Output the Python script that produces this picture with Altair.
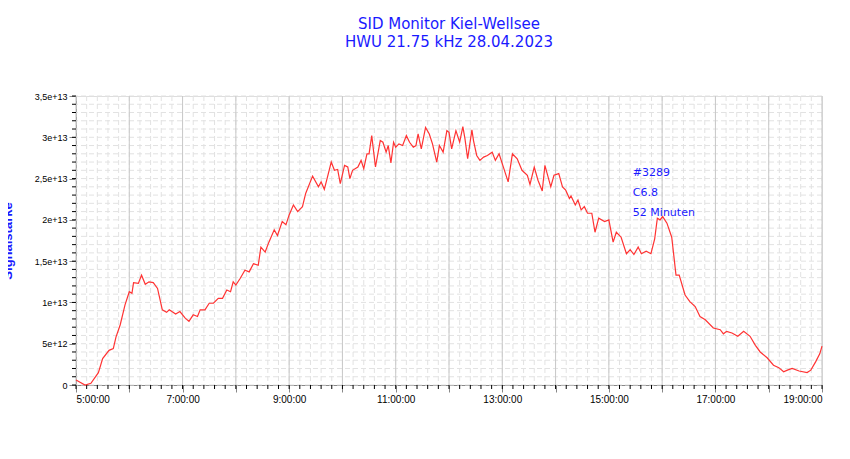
import numpy as np
import pandas as pd
import altair as alt

# time in hours (UTC), signal in units of 1e13
hours = [
    5.0, 5.17, 5.28, 5.42, 5.5, 5.62, 5.7, 5.75, 5.83, 5.92, 6.0, 6.05, 6.08, 6.17, 6.23,
    6.3, 6.37, 6.45, 6.53, 6.62, 6.7, 6.75, 6.87, 6.95, 7.05, 7.12, 7.2, 7.28, 7.33, 7.42,
    7.5, 7.58, 7.67, 7.75, 7.83, 7.9, 7.95, 8.0, 8.08, 8.17, 8.25, 8.33, 8.42, 8.47, 8.55,
    8.62, 8.72, 8.78, 8.87, 8.94, 9.0, 9.08, 9.16, 9.25, 9.31, 9.44, 9.55, 9.6, 9.66, 9.72,
    9.79, 9.85, 9.91, 9.96, 10.04, 10.1, 10.14, 10.19, 10.29, 10.35, 10.4, 10.46, 10.5,
    10.55, 10.62, 10.71, 10.76, 10.82, 10.86, 10.91, 10.96, 11.0, 11.06, 11.13, 11.2,
    11.26, 11.33, 11.38, 11.42, 11.48, 11.56, 11.63, 11.69, 11.77, 11.82, 11.89, 11.96,
    12.0, 12.05, 12.13, 12.2, 12.26, 12.3, 12.35, 12.43, 12.46, 12.52, 12.58, 12.65,
    12.72, 12.81, 12.87, 12.94, 13.01, 13.11, 13.19, 13.28, 13.37, 13.47, 13.52, 13.6,
    13.67, 13.75, 13.8, 13.91, 13.97, 14.06, 14.13, 14.19, 14.26, 14.29, 14.37, 14.42,
    14.48, 14.54, 14.6, 14.68, 14.74, 14.81, 14.92, 15.0, 15.08, 15.14, 15.23, 15.33,
    15.4, 15.47, 15.55, 15.61, 15.7, 15.79, 15.86, 15.91, 15.96, 16.01, 16.09, 16.18,
    16.26, 16.32, 16.43, 16.52, 16.62, 16.71, 16.81, 16.96, 17.09, 17.15, 17.21, 17.31,
    17.42, 17.53, 17.65, 17.75, 17.84, 17.97, 18.09, 18.19, 18.28, 18.35, 18.44, 18.57,
    18.72, 18.79, 18.88, 18.96, 19.0,
]
signal = [
    0.06, 0.0, 0.02, 0.15, 0.32, 0.42, 0.44, 0.58, 0.73, 0.97, 1.13, 1.11, 1.24, 1.23, 1.33,
    1.22, 1.25, 1.24, 1.17, 0.91, 0.88, 0.91, 0.86, 0.89, 0.81, 0.77, 0.85, 0.83, 0.91, 0.91,
    0.99, 0.99, 1.05, 1.05, 1.15, 1.13, 1.25, 1.21, 1.29, 1.39, 1.37, 1.47, 1.45, 1.67, 1.61,
    1.73, 1.88, 1.81, 1.98, 1.94, 2.06, 2.18, 2.10, 2.16, 2.32, 2.53, 2.40, 2.46, 2.37, 2.52,
    2.70, 2.60, 2.61, 2.44, 2.66, 2.64, 2.50, 2.60, 2.64, 2.72, 2.62, 2.80, 2.80,
    3.02, 2.64, 2.96, 2.94, 2.82, 2.90, 2.69, 2.94, 2.88, 2.92, 2.90, 3.02,
    2.94, 2.88, 2.90, 3.04, 2.86, 3.12, 3.04, 2.92, 2.70, 2.90, 2.82, 3.08,
    3.06, 2.86, 3.08, 2.94, 3.13, 2.98, 2.74, 3.09, 2.96, 2.78, 2.72, 2.76,
    2.78, 2.82, 2.72, 2.80, 2.66, 2.46, 2.80, 2.74, 2.60, 2.54, 2.43, 2.64,
    2.48, 2.35, 2.66, 2.40, 2.54, 2.56, 2.40, 2.36, 2.26, 2.29, 2.18, 2.24,
    2.12, 2.16, 2.08, 2.08, 1.85, 2.02, 1.98, 2.00, 1.73, 1.85, 1.79, 1.59,
    1.64, 1.58, 1.67, 1.59, 1.62, 1.59, 1.77, 2.02, 2.00, 2.04, 1.96, 1.79,
    1.33, 1.33, 1.09, 1.01, 0.95, 0.83, 0.79, 0.69, 0.67, 0.62, 0.65, 0.63,
    0.59, 0.65, 0.59, 0.48, 0.40, 0.33, 0.24, 0.21, 0.16, 0.18, 0.20, 0.17,
    0.15, 0.18, 0.28, 0.38, 0.47,
]
hour_ticks = list(range(5, 20))
y_ticks = [0, 0.5, 1, 1.5, 2, 2.5, 3, 3.5]
note_lines = ["#3289", "C6.8", "52 Minuten"]
note_x = [15.45, 15.45, 15.45]
note_y = [2.57, 2.32, 2.08]

W, H = 746, 289
df = pd.DataFrame({"t": hours, "v": signal})
xs = alt.Scale(domain=[5, 19], nice=False, zero=False)
ys = alt.Scale(domain=[0, 3.5], nice=False)

x_axis = alt.Axis(values=hour_ticks, labelExpr="datum.value + ':00:00'",
                  grid=False, tickSize=7, labelFontSize=10, titleFontSize=13,
                  titleColor="#1a1aff", titleFontWeight="bold", titleY=58)
y_axis = alt.Axis(values=y_ticks, grid=False, tickSize=7, labelFontSize=9,
                  labelExpr="datum.value == 0 ? '0' : datum.value == 0.5 ? '5e+12' : "
                            "replace(format(datum.value, '.1~f'), '.', ',') + 'e+13'",
                  titleFontSize=13, titleColor="#1a1aff", titleFontWeight="bold",
                  titleX=-62, titleY=H / 2)
X = alt.X("t:Q", scale=xs, title="Zeit UTC", axis=x_axis)
Y = alt.Y("v:Q", scale=ys, title="Signalstärke", axis=y_axis)

minor_x = pd.DataFrame({"t": np.round(np.arange(5, 19.01, 0.2), 2)})
minor_y = pd.DataFrame({"v": np.round(np.arange(0, 3.51, 0.1), 2)})
major_x = pd.DataFrame({"t": hour_ticks})

grid_dash = dict(color="#e2e2e2", strokeDash=[5, 3], strokeWidth=1)
vgrid_minor = alt.Chart(minor_x).mark_rule(**grid_dash).encode(x=X)
hgrid_minor = alt.Chart(minor_y).mark_rule(**grid_dash).encode(y=Y)
vgrid_major = alt.Chart(major_x).mark_rule(color="#c8c8c8", strokeWidth=1).encode(x=X)

# minor tick marks on the axes
xtick_minor = alt.Chart(minor_x).mark_rule(color="black").encode(
    x=X, y=alt.value(H), y2=alt.value(H + 4))
ytick_minor = alt.Chart(minor_y).mark_rule(color="black").encode(
    y=Y, x=alt.value(-4), x2=alt.value(0))

line = alt.Chart(df).mark_line(color="#ff3333", strokeWidth=1.2).encode(x=X, y=Y)

notes = alt.Chart(pd.DataFrame({"t": note_x, "v": note_y, "s": note_lines})).mark_text(
    align="left", color="#1a1aff", fontSize=11, font="DejaVu Sans").encode(
    x=X, y=Y, text="s:N")

chart = alt.layer(vgrid_minor, hgrid_minor, vgrid_major, xtick_minor, ytick_minor,
                  line, notes).properties(
    width=W, height=H,
    autosize=alt.AutoSizeParams(type="none"),
    padding={"left": 68, "top": 88, "right": 20, "bottom": 60},
    title=alt.Title(["SID Monitor Kiel-Wellsee", "HWU 21.75 kHz 28.04.2023"],
                    anchor="middle", color="#1a1aff", fontSize=15, fontWeight="normal",
                    font="DejaVu Sans", lineHeight=18, offset=42),
).configure_view(stroke="black").configure_axis(
    domainColor="black", tickColor="black", labelColor="black",
    labelFont="DejaVu Sans", titleFont="DejaVu Sans",
).configure(background="white")

chart.save("out.html", embed_options={"renderer": "svg", "actions": False})
